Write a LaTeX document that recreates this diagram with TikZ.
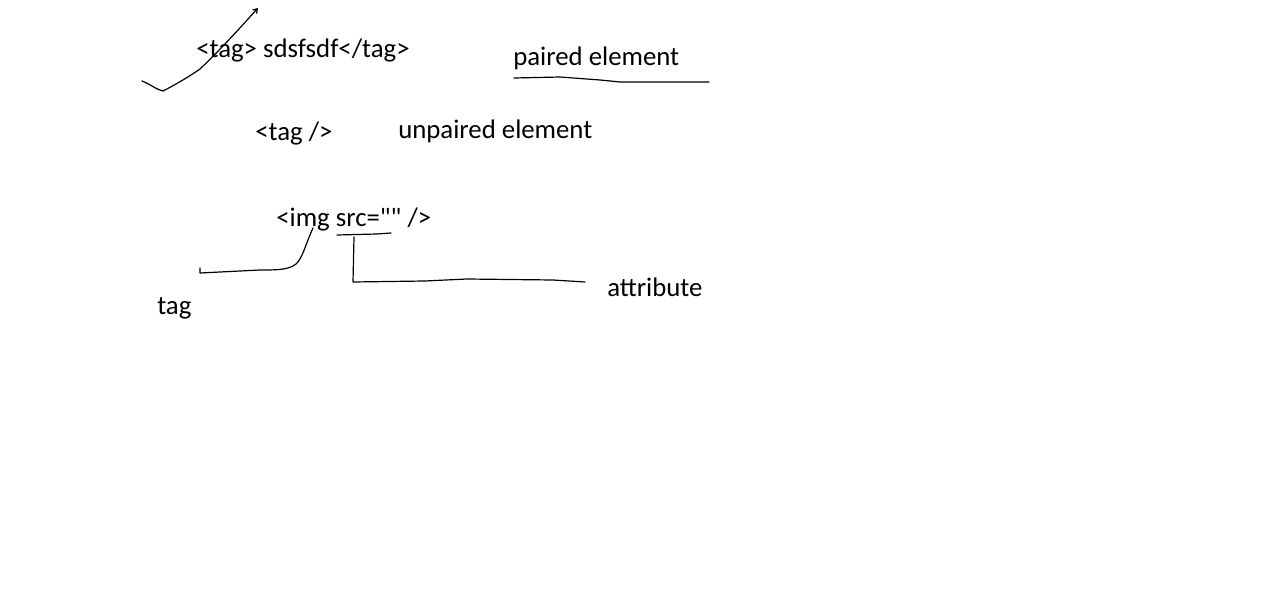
\documentclass[tikz,border=0pt]{standalone}
\usepackage{fontspec}
\setmainfont{Carlito}
\usetikzlibrary{arrows.meta}
\tikzset{
	lbl/.style={anchor=base west, inner sep=0pt, font=\fontsize{20.1}{24}\selectfont},
	pen/.style={line width=0.9pt, line join=round, line cap=round}
}
\begin{document}
\begin{tikzpicture}[x=0.75pt, y=-0.75pt]
	\useasboundingbox[fill=white] (0,0) rectangle (1286,596);
\node[lbl] (pairedtag) at (196,57) {<tag> sdsfsdf</tag>};
\node[lbl] (paired) at (513,65) {paired element};
\node[lbl] (unpairedtag) at (255,140) {<tag />};
\node[lbl] (unpaired) at (398,138) {unpaired element};
\node[lbl] (imgtag) at (276,226) {<img src=\textquotedbl\textquotedbl{} />};
\node[lbl] (tag) at (157,314) {tag};
\node[lbl] (attr) at (607,296) {attribute};
\coordinate (tick) at (142,81);
\coordinate (tickend) at (258,8);
\coordinate (tagstart) at (313,228);
\coordinate (tagend) at (200,273);
\coordinate (srcline) at (354,237);
\coordinate (attrend) at (585,282);
\draw[pen, -{Straight Barb[length=3pt, width=4pt]}] (tick) .. controls (150,84) and (157,90) .. (163,91)
  .. controls (175,85) and (190,76) .. (200,69)
  .. controls (220,50) and (240,28) .. (tickend);
\draw[pen] (514,78) -- (560,77) -- (600,80) -- (620,82) -- (709,82);
\draw[pen] (tagstart) .. controls (305,245) and (302,262) .. (293,266)
  .. controls (285,270) and (275,270) .. (260,270) -- (tagend) -- (200,268);
\draw[pen] (337,235) -- (377,234) -- (391,233);
\draw[pen] (srcline) -- (353,282) -- (425,281) -- (467,279) -- (553,280) -- (attrend);
\end{tikzpicture}
\end{document}
